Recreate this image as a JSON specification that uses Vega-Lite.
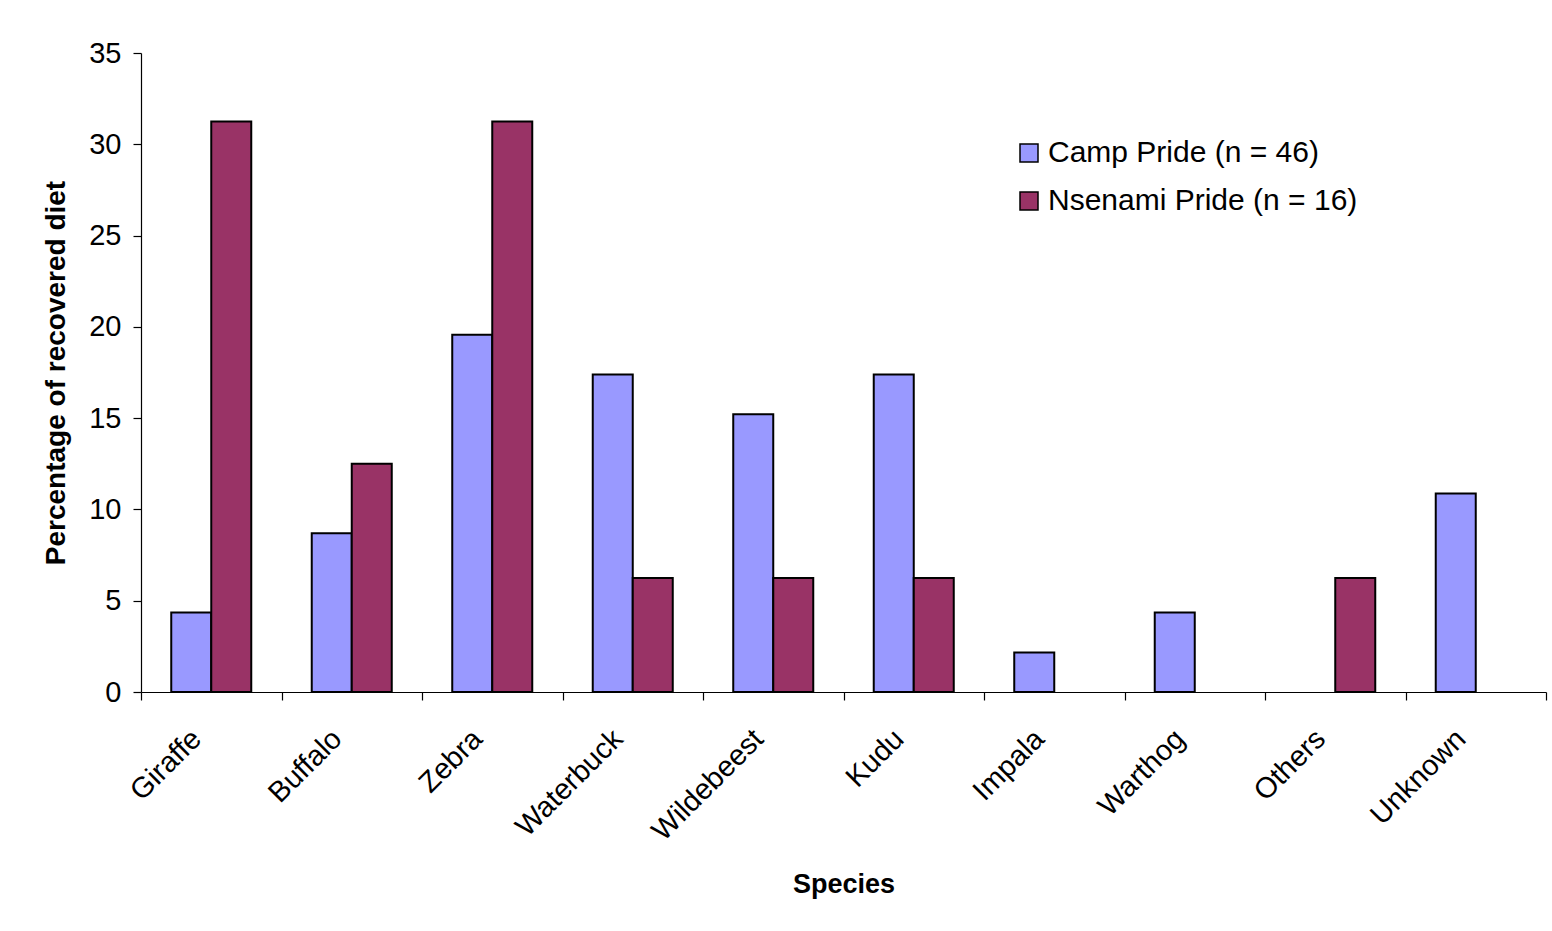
{
  "$schema": "https://vega.github.io/schema/vega-lite/v6.json",
  "background": "white",
  "autosize": {"type": "none"},
  "padding": {"left": 141, "top": 53, "right": 6, "bottom": 239},
  "width": 1405,
  "height": 639,
  "data": {
    "values": [
      {"species": "Giraffe", "pride": "Camp Pride (n = 46)", "pct": 4.35},
      {"species": "Giraffe", "pride": "Nsenami Pride (n = 16)", "pct": 31.25},
      {"species": "Buffalo", "pride": "Camp Pride (n = 46)", "pct": 8.7},
      {"species": "Buffalo", "pride": "Nsenami Pride (n = 16)", "pct": 12.5},
      {"species": "Zebra", "pride": "Camp Pride (n = 46)", "pct": 19.57},
      {"species": "Zebra", "pride": "Nsenami Pride (n = 16)", "pct": 31.25},
      {"species": "Waterbuck", "pride": "Camp Pride (n = 46)", "pct": 17.39},
      {"species": "Waterbuck", "pride": "Nsenami Pride (n = 16)", "pct": 6.25},
      {"species": "Wildebeest", "pride": "Camp Pride (n = 46)", "pct": 15.22},
      {"species": "Wildebeest", "pride": "Nsenami Pride (n = 16)", "pct": 6.25},
      {"species": "Kudu", "pride": "Camp Pride (n = 46)", "pct": 17.39},
      {"species": "Kudu", "pride": "Nsenami Pride (n = 16)", "pct": 6.25},
      {"species": "Impala", "pride": "Camp Pride (n = 46)", "pct": 2.17},
      {"species": "Impala", "pride": "Nsenami Pride (n = 16)", "pct": 0},
      {"species": "Warthog", "pride": "Camp Pride (n = 46)", "pct": 4.35},
      {"species": "Warthog", "pride": "Nsenami Pride (n = 16)", "pct": 0},
      {"species": "Others", "pride": "Camp Pride (n = 46)", "pct": 0},
      {"species": "Others", "pride": "Nsenami Pride (n = 16)", "pct": 6.25},
      {"species": "Unknown", "pride": "Camp Pride (n = 46)", "pct": 10.87},
      {"species": "Unknown", "pride": "Nsenami Pride (n = 16)", "pct": 0}
    ]
  },
  "transform": [{"filter": "datum.pct > 0"}],
  "mark": {"type": "bar", "stroke": "black", "strokeWidth": 2, "clip": false},
  "encoding": {
    "x": {
      "field": "species",
      "type": "nominal",
      "sort": null,
      "title": "Species",
      "scale": {"paddingInner": 0, "paddingOuter": 0},
      "axis": {
        "labelAngle": -45,
        "tickBand": "extent",
        "labelOffset": -25,
        "labelPadding": 24,
        "titlePadding": 26
      }
    },
    "xOffset": {
      "field": "pride",
      "type": "nominal",
      "scale": {"paddingInner": 0, "paddingOuter": 0.756}
    },
    "y": {
      "field": "pct",
      "type": "quantitative",
      "title": "Percentage of recovered diet",
      "scale": {"domain": [0, 35], "nice": false},
      "axis": {"values": [0, 5, 10, 15, 20, 25, 30, 35], "labelPadding": 12, "titlePadding": 18, "titleFontSize": 28}
    },
    "color": {
      "field": "pride",
      "type": "nominal",
      "title": null,
      "scale": {"range": ["#9999ff", "#993366"]},
      "legend": {
        "orient": "none",
        "legendX": 873,
        "legendY": 85,
        "symbolType": "square",
        "symbolSize": 324,
        "symbolStrokeColor": "black",
        "symbolStrokeWidth": 1.5,
        "symbolOpacity": 1,
        "labelFontSize": 30,
        "labelFont": "Liberation Sans",
        "labelColor": "black",
        "labelOffset": 4,
        "labelLimit": 500,
        "rowPadding": 18
      }
    }
  },
  "config": {
    "view": {"stroke": null},
    "axis": {
      "grid": false,
      "domainColor": "black",
      "domainWidth": 1.2,
      "tickColor": "black",
      "tickWidth": 1.2,
      "tickSize": 8,
      "labelFont": "Liberation Sans",
      "labelFontSize": 29,
      "labelColor": "black",
      "titleFont": "Liberation Sans",
      "titleFontSize": 27,
      "titleFontWeight": "bold",
      "titleColor": "black"
    }
  }
}
